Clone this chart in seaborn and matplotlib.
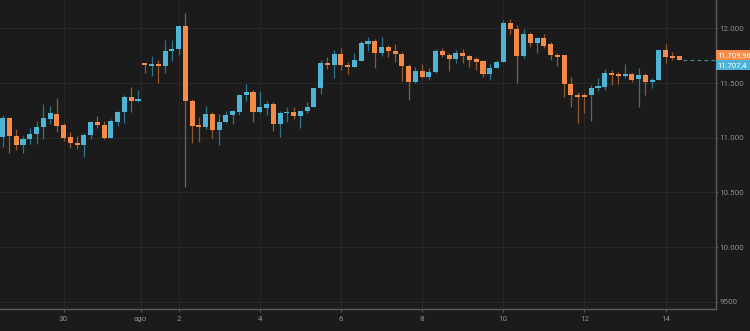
import numpy as np
import pandas as pd
import matplotlib
matplotlib.use("Agg")
import matplotlib.pyplot as plt
import matplotlib.transforms as mtransforms
from matplotlib.patches import Rectangle
import seaborn as sns

# ---- data (4-hour candles) ----
opens = [11004, 11177, 11016, 10931, 10985, 11030, 11100, 11171, 11219, 11116,
         11004, 10954, 10930, 11025, 11141, 11116, 11000, 11146, 11232, 11369,
         11333, 11686, 11655, 11674, 11655, 11795, 11813, 12021, 11335, 11116,
         11095, 11219, 11070, 11141, 11207, 11238, 11390, 11420, 11238, 11269,
         11308, 11122, 11223, 11238, 11201, 11244, 11283, 11451, 11686, 11664,
         11765, 11664, 11643, 11704, 11859, 11884, 11771, 11832, 11795, 11765,
         11658, 11512, 11610, 11552, 11603, 11792, 11756, 11719, 11777, 11749,
         11716, 11698, 11582, 11634, 11689, 12046, 11994, 11747, 11945, 11868,
         11909, 11854, 11756, 11756, 11494, 11390, 11390, 11388, 11457, 11466,
         11594, 11582, 11561, 11580, 11534, 11570, 11509, 11525, 11802, 11747,
         11747]
highs = [11208, 11192, 11077, 11018, 11091, 11155, 11305, 11290, 11360, 11132,
         11055, 11018, 11046, 11155, 11198, 11153, 11171, 11244, 11390, 11461,
         11436, 11686, 11747, 11710, 11893, 11893, 12021, 12143, 11354, 11192,
         11290, 11232, 11217, 11247, 11253, 11397, 11491, 11436, 11427, 11335,
         11329, 11244, 11283, 11278, 11244, 11329, 11452, 11710, 11740, 11802,
         11817, 11695, 11771, 11884, 11918, 11900, 11923, 11847, 11856, 11786,
         11674, 11649, 11674, 11634, 11808, 11823, 11771, 11802, 11811, 11756,
         11735, 11710, 11671, 11710, 12076, 12082, 12030, 11991, 11969, 11918,
         11948, 11872, 11777, 11756, 11558, 11420, 11411, 11482, 11543, 11628,
         11619, 11603, 11674, 11594, 11634, 11594, 11548, 11802, 11859, 11781,
         11747]
lows = [10918, 10863, 10888, 10857, 10940, 10940, 10985, 11125, 11055, 10970,
        10909, 10899, 10826, 10988, 11086, 10985, 11000, 11107, 11132, 11238,
        11329, 11589, 11567, 11497, 11594, 11698, 11756, 10547, 10949, 10963,
        11077, 11000, 10933, 11132, 11125, 11207, 11338, 11146, 11223, 11207,
        11064, 11009, 11146, 11171, 11086, 11228, 11283, 11399, 11625, 11543,
        11619, 11582, 11643, 11704, 11795, 11640, 11747, 11740, 11695, 11518,
        11345, 11497, 11548, 11527, 11589, 11735, 11612, 11680, 11686, 11649,
        11619, 11552, 11527, 11634, 11689, 11948, 11497, 11726, 11832, 11771,
        11823, 11710, 11655, 11375, 11278, 11132, 11223, 11155, 11430, 11436,
        11482, 11488, 11543, 11512, 11278, 11390, 11452, 11525, 11686, 11710,
        11709.96]
closes = [11177, 11018, 10933, 10985, 11031, 11100, 11177, 11223, 11110, 11000,
          10949, 10931, 11025, 11141, 11116, 11000, 11155, 11232, 11369, 11333,
          11351, 11667, 11674, 11655, 11795, 11813, 12021, 11335, 11110, 11095,
          11217, 11070, 11141, 11207, 11244, 11390, 11420, 11238, 11278, 11308,
          11122, 11223, 11238, 11201, 11244, 11283, 11452, 11686, 11664, 11765,
          11664, 11643, 11710, 11863, 11884, 11771, 11832, 11795, 11765, 11655,
          11512, 11610, 11552, 11603, 11792, 11756, 11719, 11777, 11747, 11710,
          11695, 11582, 11640, 11689, 12046, 11994, 11747, 11945, 11868, 11909,
          11841, 11756, 11740, 11494, 11388, 11375, 11375, 11457, 11473, 11594,
          11573, 11561, 11582, 11527, 11570, 11512, 11527, 11802, 11740, 11726,
          11709.96]

x_tick_pos = [9, 20.4, 26, 38, 50, 62, 74, 86, 98]
x_tick_labels = ["30", "ago", "2", "4", "6", "8", "10", "12", "14"]
y_ticks = [9500, 10000, 10500, 11000, 11500, 12000]
y_tick_labels = ["9500", "10.000", "10.500", "11.000", "11.500", "12.000"]
last_price = 11709.96
bid_price = 11707.4
last_label = "11.709,96"
bid_label = "11.707,4"

# ---- style ----
BG = "#1b1b1b"
GRID = "#272727"
SPINE = "#5a5a5a"
TXT = "#8c8c8c"
UP = "#4db4d6"
DOWN = "#f68b47"
UP_WICK = "#2c7389"
DOWN_WICK = "#915731"

sns.set_theme(style="dark", rc={
    "axes.facecolor": BG, "figure.facecolor": BG,
    "grid.color": GRID, "axes.edgecolor": SPINE,
})
plt.rcParams["font.family"] = ["Roboto", "DejaVu Sans"]

df = pd.DataFrame({"open": opens, "high": highs, "low": lows, "close": closes})
df["idx"] = np.arange(len(df))
df["up"] = df["close"] >= df["open"]
df["body_lo"] = df[["open", "close"]].min(axis=1)
df["body_h"] = (df["close"] - df["open"]).abs().clip(lower=16)

fig = plt.figure(figsize=(7.5, 3.31), dpi=100, facecolor=BG)
ax = fig.add_axes([0, 21.7 / 331, 715.5 / 750, 309.3 / 331])
ax.set_facecolor(BG)

ymin, ymax = 9431, 12259
xmin, xmax = -0.4, 105.37
ax.set_xlim(xmin, xmax)
ax.set_ylim(ymin, ymax)

ax.grid(True, color=GRID, lw=0.8, zorder=0)
ax.set_axisbelow(True)

wick_cols = np.where(df["up"], UP_WICK, DOWN_WICK)
body_cols = np.where(df["up"], UP, DOWN)
ax.vlines(df["idx"], df["low"], df["high"], colors=wick_cols, lw=0.9, zorder=2)
ax.bar(df["idx"], df["body_h"], bottom=df["body_lo"], width=0.74,
       color=body_cols, linewidth=0, zorder=3)

# last price dashed line
ax.hlines(last_price, df["idx"].iloc[-1] + 0.6, xmax, colors="#4d7f90",
          lw=0.9, linestyles=(0, (3, 2.6)), zorder=2)

# axes / ticks
sns.despine(ax=ax, top=True, left=True, right=False, bottom=False)
for s in ("right", "bottom"):
    ax.spines[s].set_color(SPINE)
    ax.spines[s].set_linewidth(1.0)
ax.set_xticks(x_tick_pos)
ax.set_xticklabels(x_tick_labels)
ax.yaxis.tick_right()
ax.set_yticks(y_ticks)
ax.set_yticklabels(y_tick_labels)
ax.tick_params(axis="x", colors=TXT, labelsize=5.8, length=2.5, width=0.7,
               color=SPINE, pad=2, bottom=True, direction="out")
ax.tick_params(axis="y", colors=TXT, labelsize=5.8, length=1.5, width=0.7,
               color=SPINE, pad=1.2, right=True, left=False, direction="out")
ax.set_xlabel("")
ax.set_ylabel("")

# price label boxes on the right
units_per_px = (ymax - ymin) / 309.3
box_h = 10 * units_per_px
trans = mtransforms.blended_transform_factory(ax.transAxes, ax.transData)
box_w = (750 - 715.5) / 715.5
ax.add_patch(Rectangle((1.0, last_price), box_w, box_h, transform=trans,
                       facecolor=DOWN, edgecolor="none", clip_on=False, zorder=5))
ax.add_patch(Rectangle((1.0, last_price - box_h), box_w, box_h, transform=trans,
                       facecolor=UP, edgecolor="none", clip_on=False, zorder=5))
ax.text(1.003, last_price + box_h / 2, last_label, transform=trans, color="#ffffff",
        fontsize=5.6, va="center", ha="left", clip_on=False, zorder=6)
ax.text(1.003, last_price - box_h / 2, bid_label, transform=trans, color="#ffffff",
        fontsize=5.6, va="center", ha="left", clip_on=False, zorder=6)

fig.savefig("out.png", dpi=100, facecolor=BG)
